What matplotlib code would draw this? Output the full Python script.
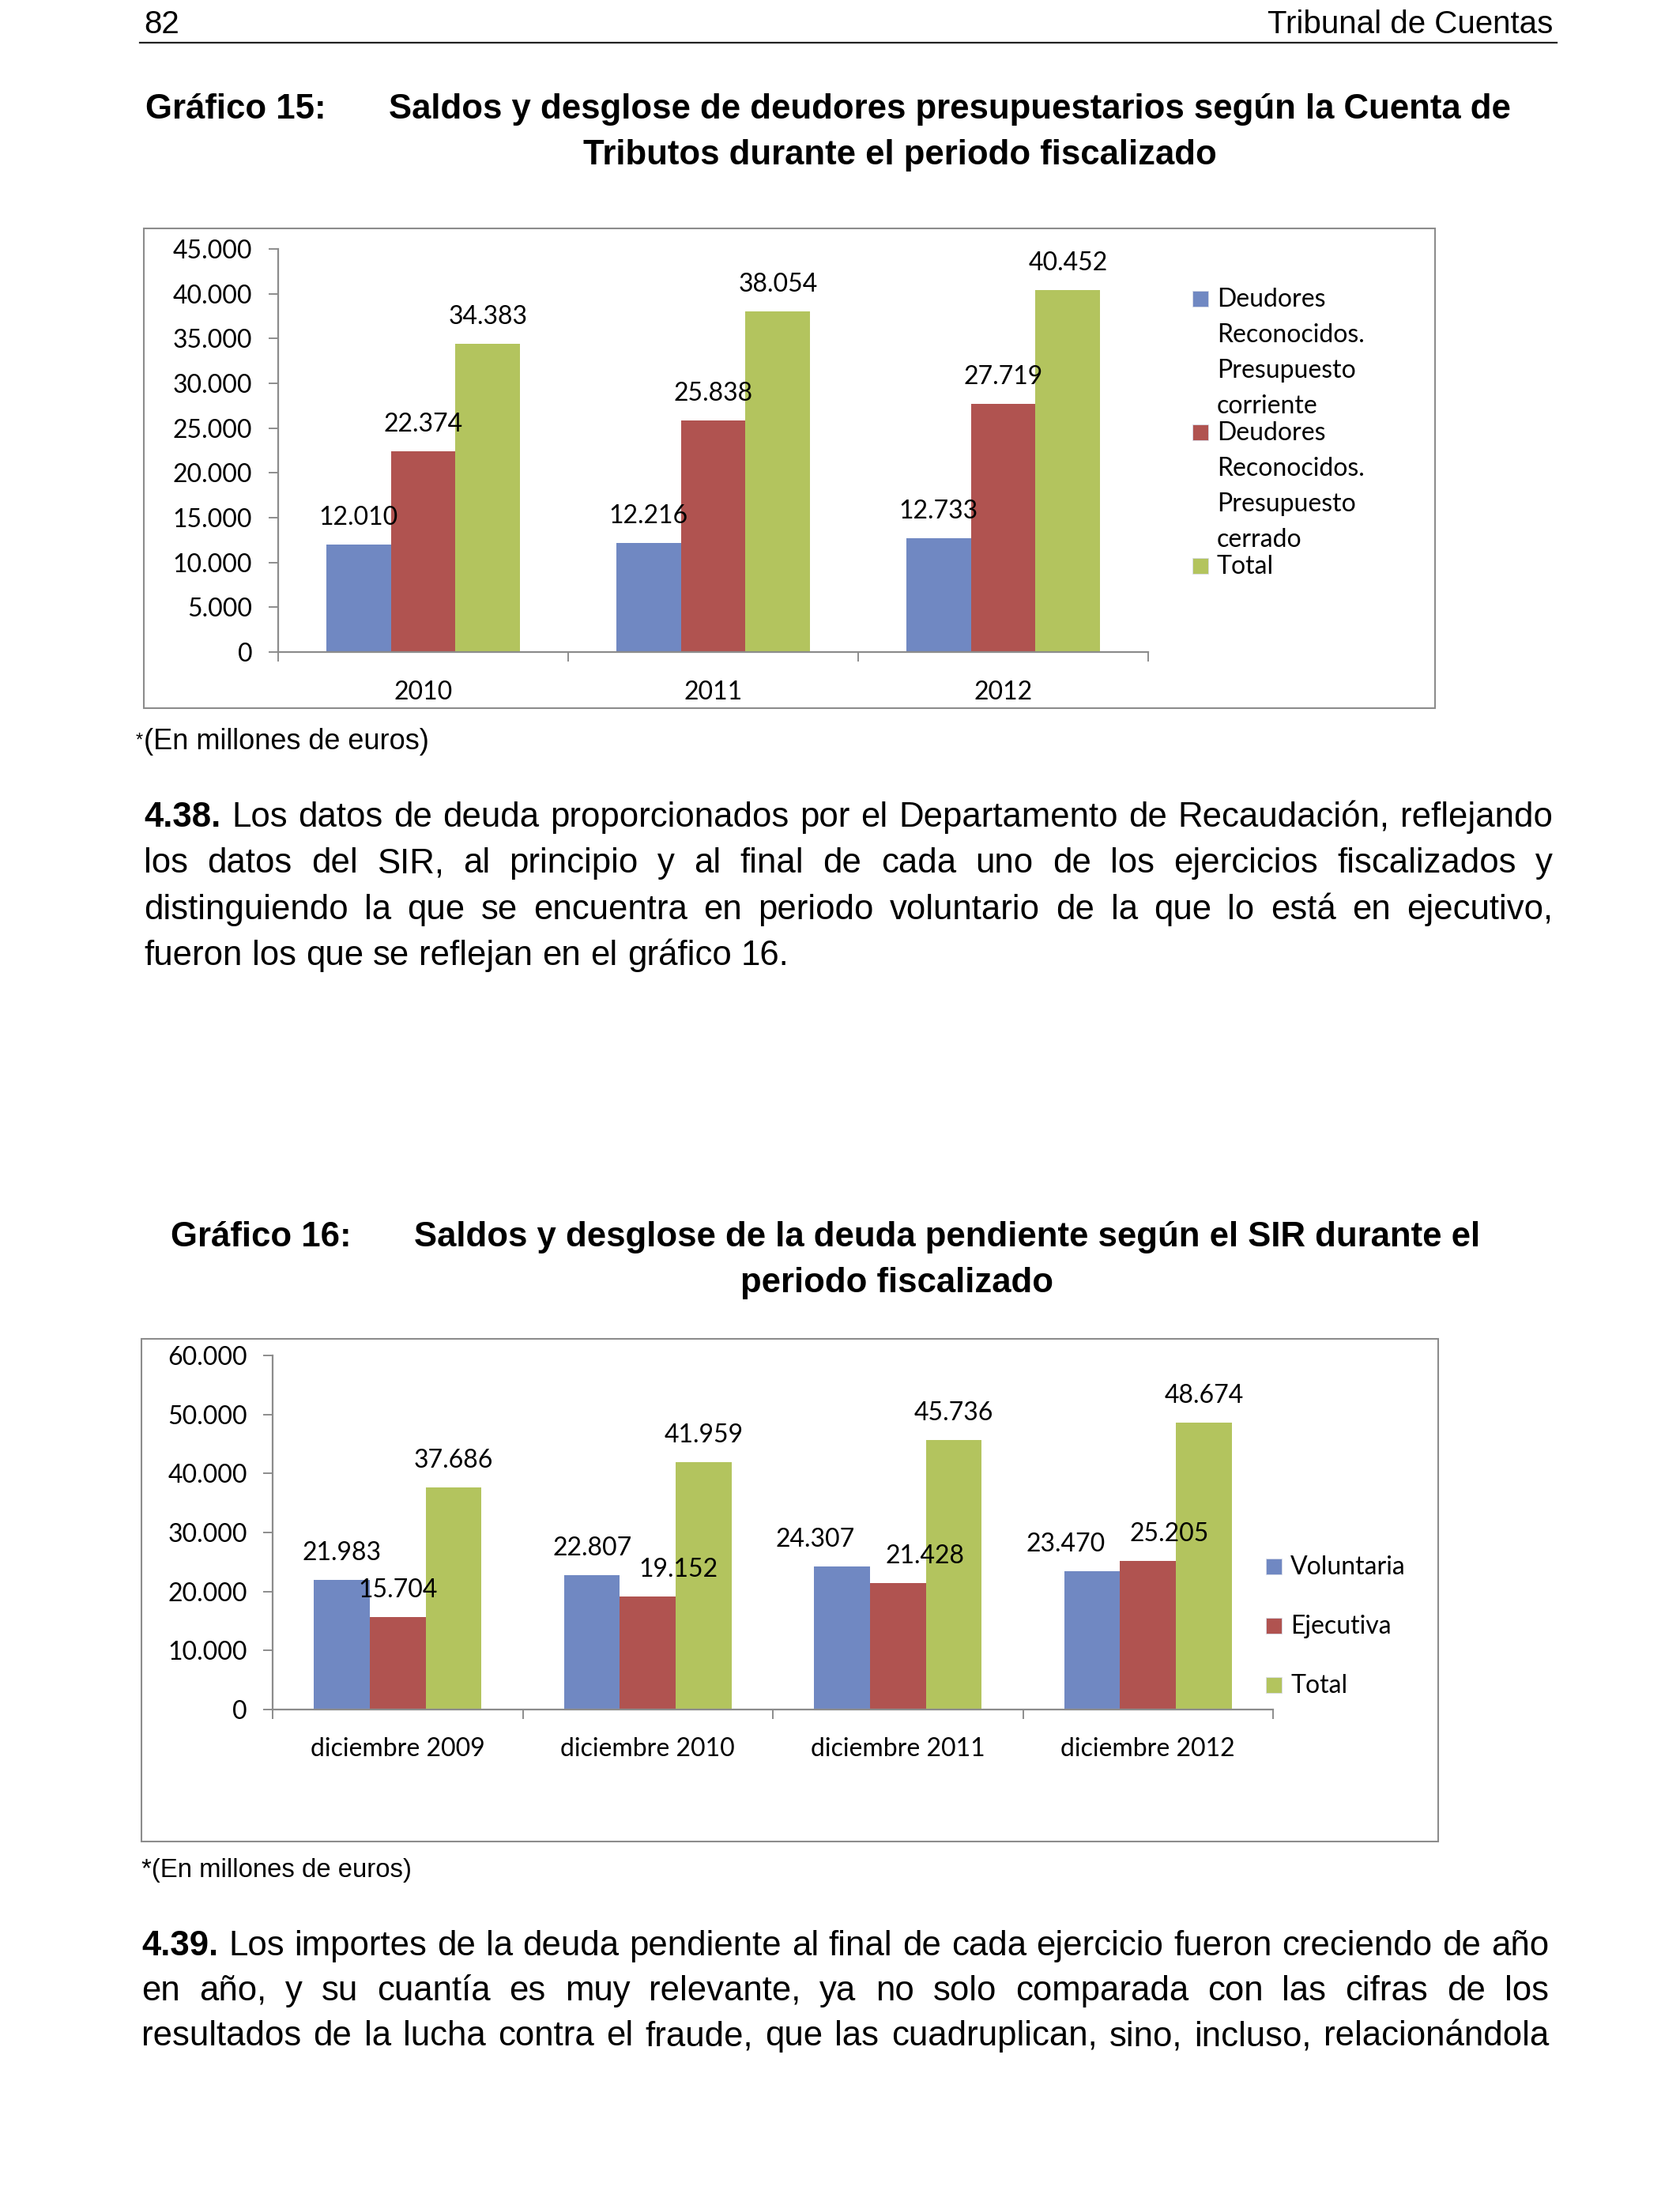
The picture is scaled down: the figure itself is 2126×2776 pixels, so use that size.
import matplotlib
matplotlib.use("Agg")
import matplotlib.pyplot as plt
from matplotlib.patches import Rectangle
from matplotlib.lines import Line2D
import numpy as np

# --- datos ---
years15 = ["2010", "2011", "2012"]
corriente = [12010, 12216, 12733]
cerrado = [22374, 25838, 27719]
total15 = [34383, 38054, 40452]
legend15 = [["Deudores", "Reconocidos.", "Presupuesto", "corriente"],
            ["Deudores", "Reconocidos.", "Presupuesto", "cerrado"],
            ["Total"]]

cats16 = ["diciembre 2009", "diciembre 2010", "diciembre 2011", "diciembre 2012"]
voluntaria = [21983, 22807, 24307, 23470]
ejecutiva = [15704, 19152, 21428, 25205]
total16 = [37686, 41959, 45736, 48674]
legend16 = [["Voluntaria"], ["Ejecutiva"], ["Total"]]

# desplazamiento horizontal (pt) de algunas etiquetas, movidas a mano en el original
nudge16 = [[0, 0, -24.5, -24.5],
           [0, 28, 25, 19.5],
           [0, 0, 0, 0]]

para438 = [
    "4.38. Los datos de deuda proporcionados por el Departamento de Recaudación, reflejando",
    "los datos del SIR, al principio y al final de cada uno de los ejercicios fiscalizados y",
    "distinguiendo la que se encuentra en periodo voluntario de la que lo está en ejecutivo,",
    "fueron los que se reflejan en el gráfico 16.",
]
para439 = [
    "4.39. Los importes de la deuda pendiente al final de cada ejercicio fueron creciendo de año",
    "en año, y su cuantía es muy relevante, ya no solo comparada con las cifras de los",
    "resultados de la lucha contra el fraude, que las cuadruplican, sino, incluso, relacionándola",
]

COLORS = ["#7088c2", "#b05350", "#b3c45e"]
GRAY = "#8c8c8c"
BODY = "Liberation Sans"
plt.rcParams["font.family"] = ["Lato", "DejaVu Sans"]

W, H = 2126, 2776
fig = plt.figure(figsize=(W / 100, H / 100), dpi=100)
renderer = fig.canvas.get_renderer()


def fx(x):
    return x / W


def fy(y):
    return 1 - y / H


def thousands(v):
    return f"{int(v):,}".replace(",", ".")


def put_line(line, x0, x1, y, size, justify=True, bold_first=False):
    words = line.split(" ")
    arts = []
    for k, w in enumerate(words):
        bold = bold_first and k == 0
        arts.append(fig.text(0, fy(y), w, fontsize=size, family=BODY,
                             fontweight="bold" if bold else "normal", va="baseline"))
    widths = [t.get_window_extent(renderer).width for t in arts]
    if justify and len(arts) > 1:
        gap = (x1 - x0 - sum(widths)) / (len(arts) - 1)
    else:
        gap = 0.278 * size * 100 / 72
    x = x0
    for t, w in zip(arts, widths):
        t.set_x(fx(x))
        x += w + gap


def box(x0, y0, x1, y1):
    fig.add_artist(Rectangle((fx(x0), fy(y1)), (x1 - x0) / W, (y1 - y0) / H,
                             transform=fig.transFigure, fill=False,
                             edgecolor=GRAY, linewidth=1.5))


def legend(x, baselines, items, step=45):
    for yb, lines, col in zip(baselines, items, COLORS):
        fig.add_artist(Rectangle((fx(x), fy(yb)), 20 / W, 20 / H,
                                 transform=fig.transFigure, facecolor=col,
                                 edgecolor="#d8dce8", linewidth=0.6))
        for j, s in enumerate(lines):
            fig.text(fx(x + 31), fy(yb + j * step), s, fontsize=23, va="baseline")


def bar_chart(rect, cats, series, ymax, step, xpad, ypad, nudges=None):
    l, t, r, b = rect
    ax = fig.add_axes([fx(l), fy(b), (r - l) / W, (b - t) / H])
    ax.patch.set_alpha(0)
    x = np.arange(len(cats))
    w = 0.223
    for i, (vals, col) in enumerate(zip(series, COLORS)):
        bars = ax.bar(x + (i - 1) * w, vals, w, color=col, linewidth=0)
        for j, (bb, v) in enumerate(zip(bars, vals)):
            dx = nudges[i][j] if nudges else 0
            ax.annotate(thousands(v), (bb.get_x() + bb.get_width() / 2, v),
                        xytext=(dx, 18), textcoords="offset points",
                        ha="center", va="baseline", fontsize=23)
    ax.set_xlim(-0.5, len(cats) - 0.5)
    ax.set_ylim(0, ymax)
    ticks = np.arange(0, ymax + 1, step)
    ax.set_yticks(ticks)
    ax.set_yticklabels([thousands(v) for v in ticks])
    ax.set_xticks(x)
    ax.set_xticklabels(cats)
    ax.set_xticks(np.arange(-0.5, len(cats)), minor=True)
    ax.tick_params(axis="x", which="major", length=0, pad=xpad, labelsize=23)
    ax.tick_params(axis="x", which="minor", length=8.6, width=1.4, color=GRAY)
    ax.tick_params(axis="y", length=8.6, width=1.4, color=GRAY, pad=ypad, labelsize=23)
    for s in ["top", "right"]:
        ax.spines[s].set_visible(False)
    for s in ["left", "bottom"]:
        ax.spines[s].set_color(GRAY)
        ax.spines[s].set_linewidth(1.6)
    return ax


# --- cabecera ---
fig.text(fx(182), fy(42), "82", fontsize=29, family=BODY, va="baseline")
fig.text(fx(1965), fy(42), "Tribunal de Cuentas", fontsize=29, family=BODY,
         va="baseline", ha="right")
fig.add_artist(Line2D([fx(177), fx(1970)], [fy(54), fy(54)], color="#222222",
                      linewidth=1.6, transform=fig.transFigure))

# --- gráfico 15 ---
fig.text(fx(184), fy(150), "Gráfico 15:", fontsize=31.5, family=BODY,
         fontweight="bold", va="baseline")
fig.text(fx(492), fy(150), "Saldos y desglose de deudores presupuestarios según la Cuenta de",
         fontsize=31.5, family=BODY, fontweight="bold", va="baseline")
fig.text(fx(1139), fy(208), "Tributos durante el periodo fiscalizado", fontsize=31.5,
         family=BODY, fontweight="bold", va="baseline", ha="center")

box(182, 289, 1816, 896)
bar_chart((352, 315, 1453, 825), years15, [corriente, cerrado, total15],
          45000, 5000, 26, 15)
legend(1509, [388, 557, 726], legend15)

fig.text(fx(172), fy(944), "*", fontsize=17, family=BODY, va="baseline")
fig.text(fx(182), fy(948), "(En millones de euros)", fontsize=26, family=BODY, va="baseline")

for k, line in enumerate(para438):
    put_line(line, 182, 1965, 1046 + k * 58.4, 31.5,
             justify=k < len(para438) - 1, bold_first=k == 0)

# --- gráfico 16 ---
fig.text(fx(216), fy(1577), "Gráfico 16:", fontsize=31.5, family=BODY,
         fontweight="bold", va="baseline")
fig.text(fx(524), fy(1577), "Saldos y desglose de la deuda pendiente según el SIR durante el",
         fontsize=31.5, family=BODY, fontweight="bold", va="baseline")
fig.text(fx(1135), fy(1635), "periodo fiscalizado", fontsize=31.5,
         family=BODY, fontweight="bold", va="baseline", ha="center")

box(179, 1694, 1820, 2330)
bar_chart((345, 1715, 1611, 2163), cats16, [voluntaria, ejecutiva, total16],
          60000, 10000, 25, 14.4, nudges=nudge16)
legend(1602, [1992, 2067, 2142], legend16)

fig.text(fx(179), fy(2375), "*(En millones de euros)", fontsize=23.7, family=BODY,
         va="baseline")

for k, line in enumerate(para439):
    put_line(line, 179, 1960, 2474 + k * 57, 31.5, justify=True, bold_first=k == 0)

fig.savefig("out.png", dpi=100, facecolor="white")
plt.close()
